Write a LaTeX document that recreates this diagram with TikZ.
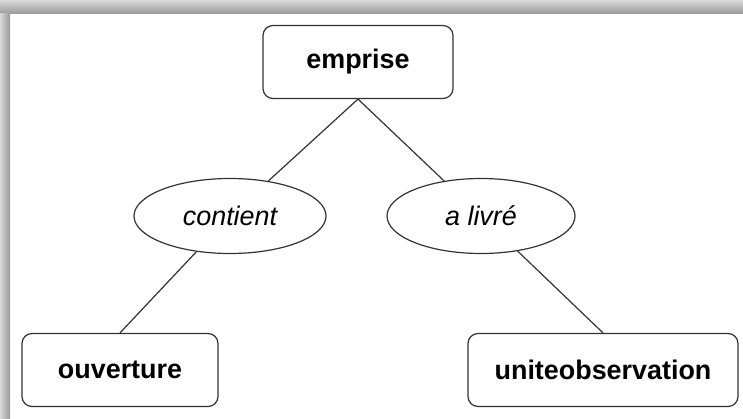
\documentclass[tikz,border=0pt]{standalone}
\usepackage{fontspec}
\setmainfont{Liberation Sans}
\usetikzlibrary{shapes.geometric}

\begin{document}
\begin{tikzpicture}[x=1bp, y=1bp, line width=1.2bp,
  every node/.style={draw=black!80, inner sep=0pt, font=\fontsize{27}{32}\selectfont},
  entity/.style={rectangle, rounded corners=10bp, minimum height=73bp, font=\fontsize{27}{32}\selectfont\bfseries},
  relation/.style={ellipse, minimum height=75bp, font=\fontsize{27}{32}\selectfont\itshape}]
\useasboundingbox (0,0) rectangle (743,418);
% frame shadow
\shade[top color=black!15, bottom color=black!40, draw=none] (0,404) rectangle (743,418);
\shade[left color=black!15, right color=black!40, draw=none] (0,0) rectangle (10,404);
\node[entity, minimum width=190bp] (emprise) at (358,356) {emprise};
\node[relation, minimum width=192bp] (contient) at (230,202) {contient};
\node[relation, minimum width=188bp] (alivre) at (481,202) {a livré};
\node[entity, minimum width=196bp] (ouverture) at (120,48) {ouverture};
\node[entity, minimum width=270bp] (uniteobs) at (603,48) {uniteobservation};
\draw[black!80] (emprise.south) -- (contient);
\draw[black!80] (emprise.south) -- (alivre);
\draw[black!80] (contient) -- (ouverture.north);
\draw[black!80] (alivre) -- (uniteobs.north);
\end{tikzpicture}
\end{document}
